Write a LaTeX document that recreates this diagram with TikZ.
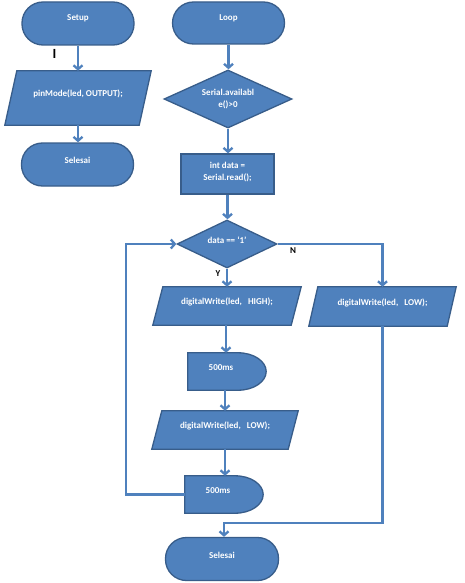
\documentclass[tikz,border=0pt]{standalone}
\usepackage{fontspec}
\setmainfont{Carlito}
\newfontfamily\dejabold{DejaVu Sans}
\usetikzlibrary{arrows.meta,shapes.geometric}
\definecolor{boxfill}{HTML}{4F81BD}
\definecolor{boxline}{HTML}{385D8A}
\definecolor{conncol}{HTML}{4F81BD}
\tikzset{
  shp/.style={fill=boxfill, draw=boxline, line width=1.3pt},
  term/.style={shp, rounded corners=21pt, inner sep=0pt},
  holder/.style={inner sep=0pt, draw=none},
  dia/.style={shp, diamond, inner sep=0pt},
  txt/.style={text=white, font=\bfseries\fontsize{9}{12.5}\selectfont, inner sep=0pt, align=center},
  lbl/.style={text=black, font=\bfseries\fontsize{9}{11}\selectfont, inner sep=0pt},
  conn/.style={draw=conncol, line width=2.3pt},
  arr/.style={conn, -{Straight Barb[length=4pt,width=9pt]}},
}
\newcommand\Para[7]{% name, cx, cy, edge width, height, half slant, text
  \node[holder, minimum width=#4pt, minimum height=#5pt] (#1) at (#2,#3) {};
  \filldraw[shp] ([xshift=#6pt]#1.north west) -- ([xshift=#6pt]#1.north east)
     -- ([xshift=-#6pt]#1.south east) -- ([xshift=-#6pt]#1.south west) -- cycle;
  \node[txt] (#1-t) at ([yshift=4pt]#1.center) {#7};
}
\newcommand\Delay[5]{% name, cx, cy, text, text dx
  \node[holder, minimum width=78pt, minimum height=37pt] (#1) at (#2,#3) {};
  \filldraw[shp] (#1.south west) -- (#1.north west) -- ([xshift=-28pt]#1.north east)
     .. controls ([xshift=-12.5pt]#1.north east) and ([yshift=10.2pt]#1.east) .. (#1.east)
     .. controls ([yshift=-10.2pt]#1.east) and ([xshift=-12.5pt]#1.south east) .. ([xshift=-28pt]#1.south east)
     -- cycle;
  \node[txt] (#1-t) at ([xshift=#5pt,yshift=4pt]#1.center) {#4};
}
\begin{document}
\begin{tikzpicture}[x=1pt,y=-1pt]
\useasboundingbox (0,0) rectangle (464,583);
\fill[white] (0,0) rectangle (464,583);

% left column
\node[term, minimum width=112pt, minimum height=43pt] (setup) at (78,23.5) {};
\node[txt] (setup-t) at ([yshift=5pt]setup.center) {Setup};
\node[text=black, inner sep=0pt, font=\bfseries\fontsize{14}{14}\selectfont] (imark) at (54.5,54) {I};
\Para{pm}{78}{98}{134}{54}{6}{pinMode(led, OUTPUT);}
\node[term, minimum width=112pt, minimum height=43pt] (sel1) at (77.5,164.5) {};
\node[txt] (sel1-t) at ([yshift=4pt]sel1.center) {Selesai};

% main column
\node[term, minimum width=112pt, minimum height=42pt] (loop) at (228.5,23) {};
\node[txt] (loop-t) at ([yshift=5pt]loop.center) {Loop};
\node[dia, minimum width=128pt, minimum height=58pt] (d1) at (228,99) {};
\node[txt] (d1-t) at ([yshift=0pt]d1.center) {Serial.availabl\\e()>0};
\node[shp, minimum width=93pt, minimum height=40pt, inner sep=0pt] (rd) at (227.5,174) {};
\node[txt] (rd-t) at ([yshift=2pt]rd.center) {int data =\\Serial.read();};
\node[dia, minimum width=100pt, minimum height=48pt] (d2) at (227,244) {};
\node[txt] (d2-t) at ([yshift=4pt]d2.center) {data == `1'};
\Para{hi}{227}{306}{138}{38}{5}{digitalWrite(led,\ \ \ HIGH);}
\Para{lowr}{382.5}{306.5}{138}{39}{4.5}{digitalWrite(led,\ \ \ LOW);}
\Delay{dl1}{227}{371.5}{500ms}{-6}
\Para{lo2}{225}{430}{136}{38}{5}{digitalWrite(led,\ \ \ LOW);}
\Delay{dl2}{224}{494.5}{500ms}{-6}
\node[term, minimum width=113pt, minimum height=43pt] (sel2) at (222,559) {};
\node[txt] (sel2-t) at ([yshift=4pt]sel2.center) {Selesai};

\node[lbl] (ylbl) at (218,274) {Y};
\node[lbl] (nlbl) at (293,251) {N};

\coordinate (backtop) at (126,244);
\coordinate (join) at (0,523);

% connectors
\draw[arr] (setup.south) -- (pm.north);
\draw[arr] (pm.south) -- (pm.south |- sel1.north);
\draw[arr] (loop.south) -- (loop.south |- d1.north);
\draw[arr] (d1.south) -- (d1.south |- rd.north);
\draw[arr] (rd.south) -- (rd.south |- d2.north);
\draw[arr] (d2.south) -- (hi.north);
\draw[arr] (d2.east) -| (lowr.north);
\draw[arr] ([xshift=-1pt]hi.south) -- ([xshift=-1pt]hi.south |- dl1.north);
\draw[arr] ([xshift=-2pt]dl1.south) -- ([xshift=-2pt]dl1.south |- lo2.north);
\draw[arr] (lo2.south) -- (lo2.south |- dl2.north);
\draw[arr] (dl2.west) -| (backtop) -- (d2.west);
\draw[arr] (lowr.south) -- (lowr.south |- join) -| ([xshift=2pt]sel2.north);
\end{tikzpicture}
\end{document}
